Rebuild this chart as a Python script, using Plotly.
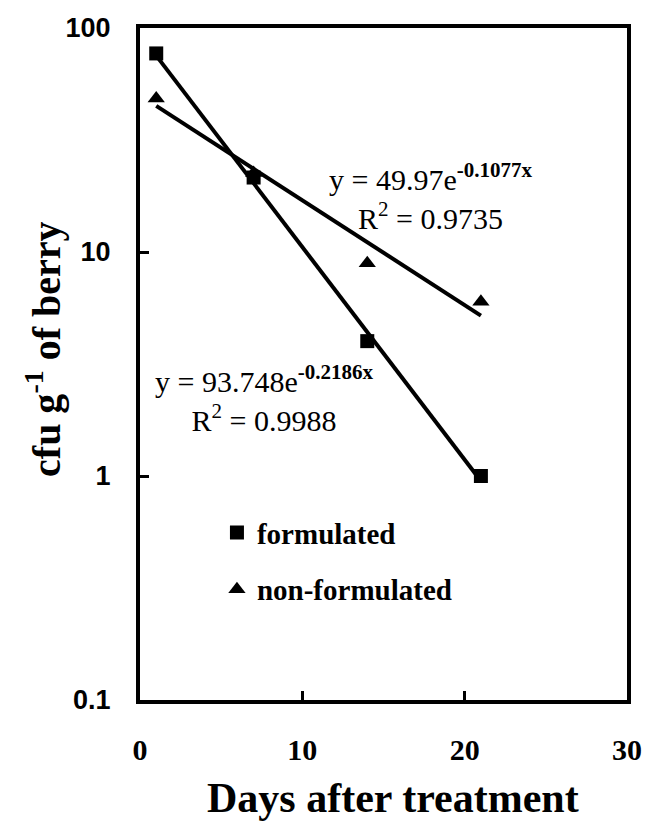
import plotly.graph_objects as go

# Data
days = [1, 7, 14, 21]
formulated = [77, 21.5, 4.0, 1.0]
non_formulated = [48.5, 22.5, 8.9, 6.0]

# Fitted exponential trend lines (end points)
trend_days = [1, 21]
trend_formulated = [75.3, 0.95]
trend_non_formulated = [44.9, 5.2]

x_ticks = [0, 10, 20, 30]
y_ticks = [0.1, 1, 10, 100]
y_tick_labels = ["0.1", "1", "10", "100"]

eq_formulated = "y = 93.748e<sup><b>-0.2186x</b></sup><br>R<sup>2</sup> = 0.9988"
eq_non_formulated = "y = 49.97e<sup><b>-0.1077x</b></sup><br>R<sup>2</sup> = 0.9735"

SERIF = "Liberation Serif, Times New Roman, serif"
SANS = "Liberation Sans, Arial, sans-serif"

fig = go.Figure()

fig.add_trace(go.Scatter(
    x=trend_days, y=trend_formulated, mode="lines",
    line=dict(color="black", width=4), showlegend=False, hoverinfo="skip"))
fig.add_trace(go.Scatter(
    x=trend_days, y=trend_non_formulated, mode="lines",
    line=dict(color="black", width=4), showlegend=False, hoverinfo="skip"))

fig.add_trace(go.Scatter(
    x=days, y=formulated, mode="markers", name="formulated",
    legendgroup="f",
    marker=dict(symbol="square", size=14, color="black")))
fig.add_trace(go.Scatter(
    x=days, y=non_formulated, mode="markers", name="non-formulated",
    legendgroup="n",
    marker=dict(symbol="triangle-up", size=15, color="black")))

fig.update_layout(
    width=654, height=826,
    margin=dict(l=140, r=16, t=28, b=126),
    paper_bgcolor="white", plot_bgcolor="white",
    legend=dict(
        x=0.158, y=0.287, xanchor="left", yanchor="top",
        font=dict(family=SERIF, size=29, color="black", weight="bold"),
        bgcolor="rgba(0,0,0,0)", traceorder="grouped", tracegroupgap=16,
        itemwidth=30),
    xaxis=dict(
        range=[0, 30], tickvals=x_ticks, ticktext=[str(v) for v in x_ticks],
        ticks="inside", ticklen=9, tickwidth=3, tickcolor="black",
        showline=True, linewidth=4, linecolor="black", mirror=True,
        showgrid=False, zeroline=False,
        tickfont=dict(family=SERIF, size=30, color="black", weight="bold"),
        ticklabelstandoff=20),
    yaxis=dict(
        type="log", range=[-1, 2], tickvals=y_ticks, ticktext=y_tick_labels,
        ticks="inside", ticklen=9, tickwidth=3, tickcolor="black",
        showline=True, linewidth=4, linecolor="black", mirror=True,
        showgrid=False, zeroline=False, minor=dict(ticks=""),
        tickfont=dict(family=SANS, size=27, color="black", weight="bold"),
        ticklabelstandoff=20),
    annotations=[
        dict(text=eq_non_formulated, xref="paper", yref="paper",
             x=0.596, y=0.749, xanchor="center", yanchor="middle",
             showarrow=False, align="center",
             font=dict(family=SERIF, size=30, color="black")),
        dict(text=eq_formulated, xref="paper", yref="paper",
             x=0.255, y=0.449, xanchor="center", yanchor="middle",
             showarrow=False, align="center",
             font=dict(family=SERIF, size=30, color="black")),
        dict(text="<b>Days after treatment</b>", xref="paper", yref="paper",
             x=0.52, y=-0.146, xanchor="center", yanchor="middle",
             showarrow=False,
             font=dict(family=SERIF, size=42, color="black")),
        dict(text="<b>cfu g<sup>-1</sup> of berry</b>", xref="paper", yref="paper",
             x=-0.197, y=0.521, xanchor="center", yanchor="middle",
             textangle=-90, showarrow=False,
             font=dict(family=SERIF, size=40, color="black")),
    ],
)

fig.write_html("out.html")
